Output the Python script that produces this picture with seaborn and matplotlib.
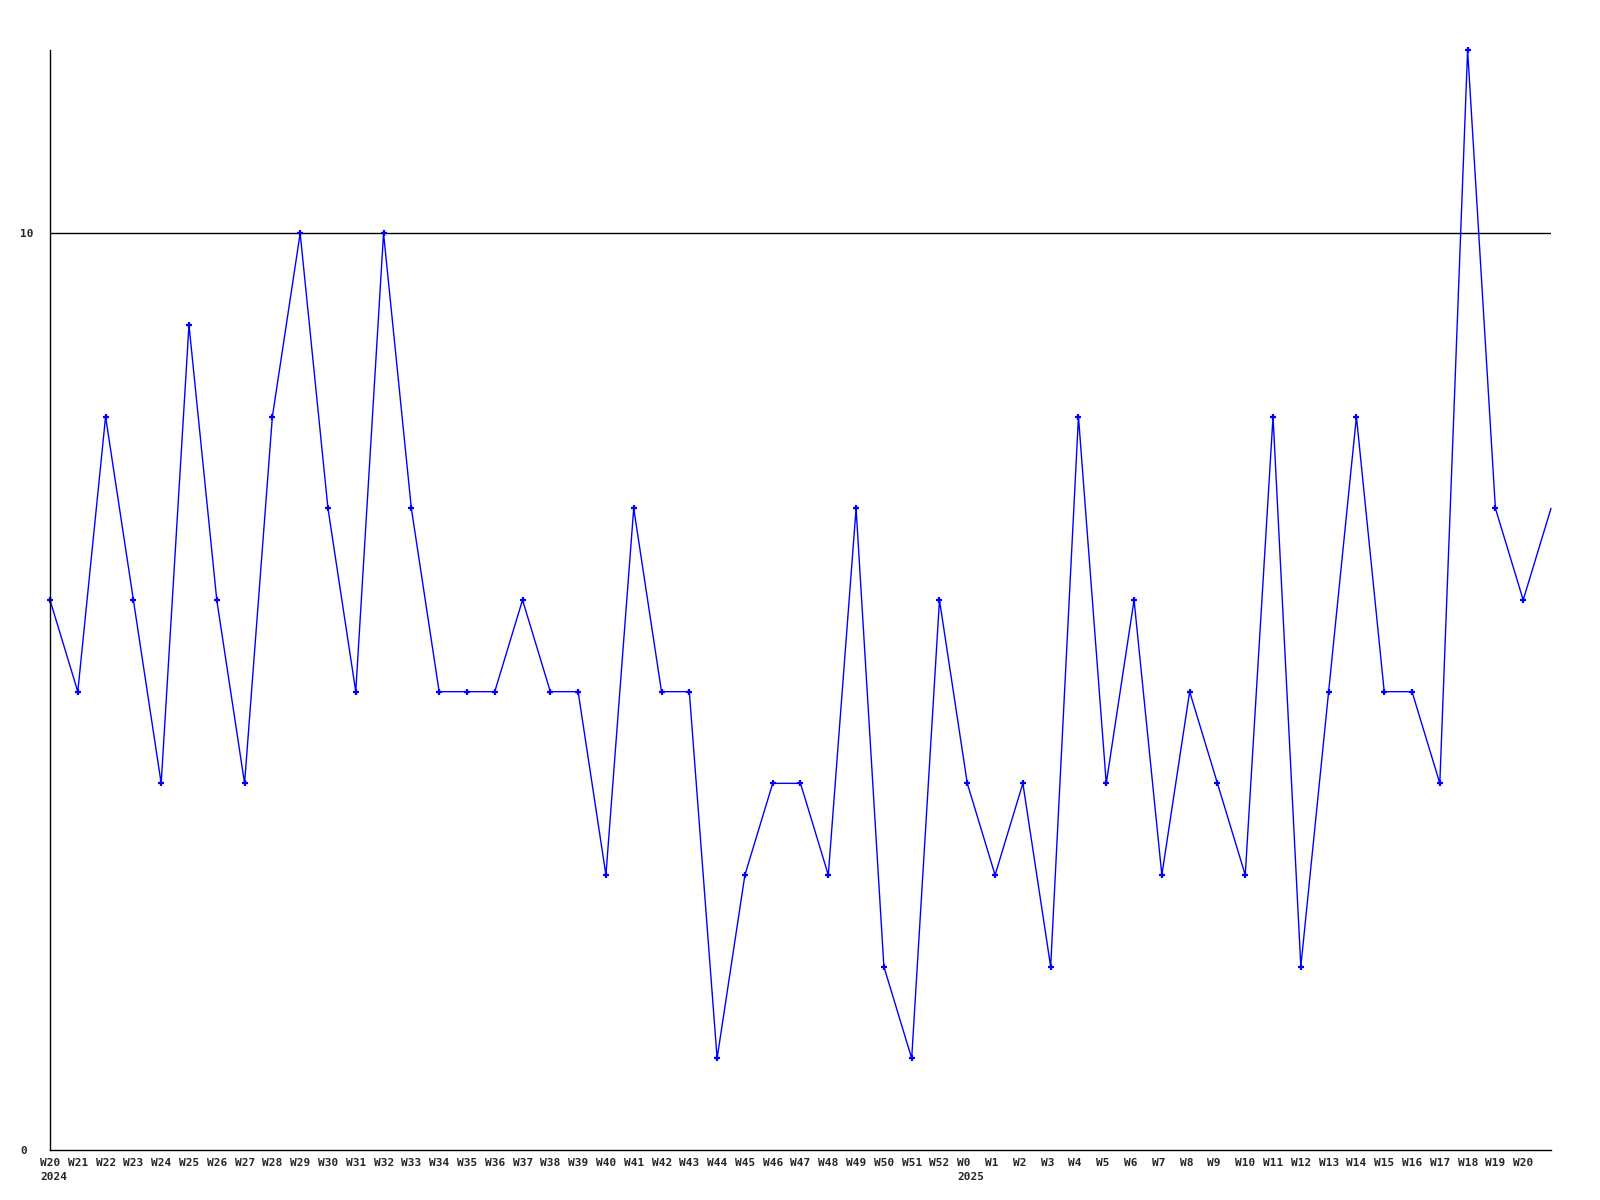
import pandas as pd
import matplotlib
matplotlib.use("Agg")
import matplotlib.pyplot as plt
import matplotlib.transforms as mtransforms
import seaborn as sns

# Weekly counts, W20 2024 .. W21 2025 (last point has no label)
weeks = ["W20", "W21", "W22", "W23", "W24", "W25", "W26", "W27", "W28", "W29",
         "W30", "W31", "W32", "W33", "W34", "W35", "W36", "W37", "W38", "W39",
         "W40", "W41", "W42", "W43", "W44", "W45", "W46", "W47", "W48", "W49",
         "W50", "W51", "W52", "W0", "W1", "W2", "W3", "W4", "W5", "W6",
         "W7", "W8", "W9", "W10", "W11", "W12", "W13", "W14", "W15", "W16",
         "W17", "W18", "W19", "W20"]
years = {0: "2024", 33: "2025"}
counts = [6, 5, 8, 6, 4, 9, 6, 4, 8, 10,
          7, 5, 10, 7, 5, 5, 5, 6, 5, 5,
          3, 7, 5, 5, 1, 3, 4, 4, 3, 7,
          2, 1, 6, 4, 3, 4, 2, 8, 4, 6,
          3, 5, 4, 3, 8, 2, 5, 8, 5, 5,
          4, 12, 7, 6, 7]

df = pd.DataFrame({"pos": range(len(counts)), "count": counts})

sns.set_style("white")
plt.rcParams["font.family"] = ["DejaVu Sans Mono"]

fig = plt.figure(figsize=(16, 12), dpi=100)
ax = fig.add_axes([50 / 1600, 50 / 1200, 1501 / 1600, 1100 / 1200])

sns.lineplot(data=df, x="pos", y="count", ax=ax, color="#0000ff",
             linewidth=1, marker="+", markersize=5, markeredgewidth=1.6,
             markeredgecolor="#0000ff", markerfacecolor="#0000ff",
             markevery=list(range(len(weeks))), clip_on=False)

ax.set_xlim(0, len(counts) - 1)
ax.set_ylim(0, 12)
ax.set_xlabel("")
ax.set_ylabel("")

# y axis: only 0 and 10, gridline at 10
ax.set_yticks([0, 10])
ax.set_yticklabels(["0", "10"], fontsize=8, fontweight="bold", ha="left")
ax.tick_params(axis="y", length=0, pad=21.6)
ax.axhline(10, color="black", linewidth=1, zorder=1)

# x axis labels, left aligned slightly before each point
labels = [w + ("\n" + years[i] if i in years else "") for i, w in enumerate(weeks)]
ax.set_xticks(range(len(weeks)))
ax.set_xticklabels(labels, fontsize=8, fontweight="bold", ha="left",
                   va="top", linespacing=1.5)
ax.tick_params(axis="x", length=0, pad=6)
shift = mtransforms.ScaledTranslation(-10 / 100, 0, fig.dpi_scale_trans)
for lbl in ax.get_xticklabels():
    lbl.set_transform(lbl.get_transform() + shift)

for side in ["top", "right"]:
    ax.spines[side].set_visible(False)
for side in ["left", "bottom"]:
    ax.spines[side].set_color("black")
    ax.spines[side].set_linewidth(1)

fig.savefig("out.png", dpi=100, facecolor="white")
